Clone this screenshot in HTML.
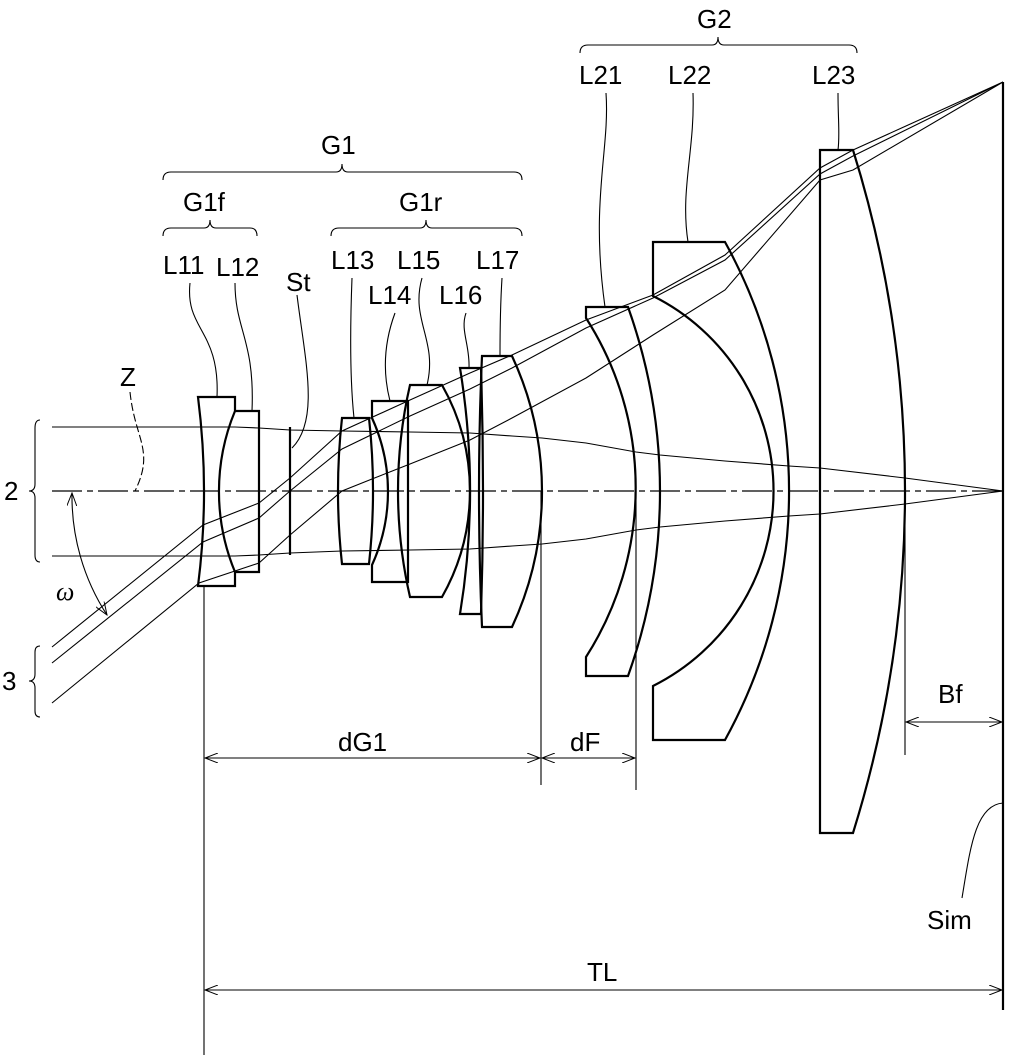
<!DOCTYPE html>
<html><head><meta charset="utf-8"><style>
html,body{margin:0;padding:0;background:#fff}
svg{display:block}
text{font-family:"Liberation Sans",sans-serif;font-size:26px;fill:#000}
</style></head><body>
<svg width="1011" height="1060" viewBox="0 0 1011 1060" xmlns="http://www.w3.org/2000/svg">
<defs>
<marker id="a" markerWidth="14" markerHeight="10" refX="13" refY="5" orient="auto-start-reverse" markerUnits="userSpaceOnUse">
<path d="M0,0 L13,5 L0,10" fill="none" stroke="#000" stroke-width="1"/>
</marker>
</defs>
<g fill="none" stroke="#000">
<line x1="52" y1="491" x2="1003" y2="491" stroke-width="1.2" stroke-dasharray="30,5,6,5"/>
<line x1="1003" y1="82" x2="1003" y2="1010" stroke-width="2.2"/>
<g stroke-width="1.1">
<path d="M52,427 L235,427 L259,428 L290,430 L342,431 L410,432 L470,433 L512,436 L542,438 L586,443 L636,452 L660,455 L725,461 L789,466 L820,468 L905,478 L1003,491"/>
<path d="M52,556 L235,556 L259,555 L290,553 L342,551 L410,550 L470,549 L512,546 L542,544 L586,539 L636,530 L660,527 L725,521 L789,516 L820,514 L905,504 L1003,491"/>
<path d="M52,647 L203,525 L259,503 L290,478 L342,431 L410,400 L470,373 L512,355 L586,320 L653,295 L725,255 L820,168 L853,150 L1003,82"/>
<path d="M52,663 L203,542 L259,518 L290,491 L342,449 L410,416 L470,389 L512,368 L586,328 L653,298 L725,260 L820,174 L853,156 L1003,82"/>
<path d="M52,703 L199,583 L259,563 L290,535 L342,491 L372,479 L410,464 L470,440 L512,418 L586,378 L653,335 L725,290 L820,180 L853,170 L1003,82"/>
</g>
<g stroke-width="2.2">
<path d="M198,397 L235,397 L235,411 A210,210 0 0 0 235,572 L235,586 L198,586 A747,747 0 0 0 198,397 Z"/>
<path d="M235,411 L259,411 L259,572 L235,572"/>
<line x1="290" y1="427" x2="290" y2="555"/>
<path d="M342,418 L369,418 A668,668 0 0 1 369,564 L342,564 A668,668 0 0 1 342,418 Z"/>
<path d="M372,401 L408,401 L408,582 L372,582 L372,565 A177,177 0 0 0 372,418 Z"/>
<path d="M410,385 L442,385 A215,215 0 0 1 442,597 L410,597 A474,474 0 0 1 410,385 Z"/>
<path d="M460,368 L481,368 A3783,3783 0 0 1 481,614 L460,614 A761,761 0 0 0 460,368 Z"/>
<path d="M482,356 L512,356 A321,321 0 0 1 512,627 L482,627 A3061,3061 0 0 1 482,356 Z"/>
<path d="M586,307 L628,307 A548,548 0 0 1 628,676 L586,676 L586,657 A314,314 0 0 0 586,318 Z"/>
<path d="M653,242 L725,242 A516,516 0 0 1 725,740 L653,740 L653,686 A218,218 0 0 0 653,296 Z"/>
<path d="M820,150 L853,150 A1147,1147 0 0 1 853,833 L820,833 Z"/>
</g>
<g stroke-width="1.1">
<line x1="204" y1="587" x2="204" y2="1055"/>
<line x1="541" y1="491" x2="541" y2="785"/>
<line x1="636" y1="491" x2="636" y2="790"/>
<line x1="905" y1="491" x2="905" y2="755"/>
<line x1="205" y1="758" x2="540" y2="758" marker-start="url(#a)" marker-end="url(#a)"/>
<line x1="542" y1="758" x2="635" y2="758" marker-start="url(#a)" marker-end="url(#a)"/>
<line x1="906" y1="722" x2="1002" y2="722" marker-start="url(#a)" marker-end="url(#a)"/>
<line x1="205" y1="990" x2="1002" y2="990" marker-start="url(#a)" marker-end="url(#a)"/>
<path d="M72,493 A218,218 0 0 0 107,615" marker-start="url(#a)" marker-end="url(#a)"/>
<path d="M190,283 C185,330 220,330 217,397"/>
<path d="M235,283 C235,330 255,340 252,411"/>
<path d="M297,295 C305,360 320,420 292,448"/>
<path d="M352,278 C350,330 350,380 354,418"/>
<path d="M395,313 C385,340 382,370 390,401"/>
<path d="M422,278 C410,320 438,340 427,385"/>
<path d="M466,313 C460,330 470,345 469,368"/>
<path d="M502,278 C500,310 500,340 500,356"/>
<path d="M606,93 C610,150 590,200 605,307"/>
<path d="M693,93 C695,150 680,190 688,242"/>
<path d="M838,93 C838,120 840,135 838,150"/>
<path d="M130,392 C135,440 155,450 135,491" stroke-dasharray="8,3"/>
<path d="M1003,803 C975,805 970,850 962,898"/>
<path d="M580,53 Q580,45 588,45 L712,45 Q718,45 718,37 Q718,45 724,45 L849,45 Q857,45 857,53"/>
<path d="M163,180 Q163,172 171,172 L336,172 Q342,172 342,164 Q342,172 348,172 L514,172 Q522,172 522,180"/>
<path d="M163,236 Q163,228 171,228 L204,228 Q210,228 210,220 Q210,228 216,228 L250,228 Q257,228 257,236"/>
<path d="M331,236 Q331,228 339,228 L420,228 Q426,228 426,220 Q426,228 432,228 L514,228 Q522,228 522,236"/>
<path d="M40,420 Q35,420 35,428 L35,484 Q35,491 29,491 Q35,491 35,498 L35,555 Q35,562 40,562"/>
<path d="M40,646 Q35,646 35,652 L35,674 Q35,681 29,681 Q35,681 35,688 L35,711 Q35,717 40,717"/>
</g>
</g>
<g>
<text x="697" y="28">G2</text>
<text x="579" y="84">L21</text>
<text x="668" y="84">L22</text>
<text x="812" y="84">L23</text>
<text x="321" y="154">G1</text>
<text x="183" y="211">G1f</text>
<text x="399" y="211">G1r</text>
<text x="163" y="274">L11</text>
<text x="216" y="276">L12</text>
<text x="286" y="291">St</text>
<text x="331" y="269">L13</text>
<text x="397" y="269">L15</text>
<text x="476" y="269">L17</text>
<text x="368" y="304">L14</text>
<text x="439" y="304">L16</text>
<text x="120" y="386">Z</text>
<text x="56" y="600" font-style="italic" style="font-family:'Liberation Serif',serif">ω</text>
<text x="4" y="500">2</text>
<text x="2" y="690">3</text>
<text x="338" y="751">dG1</text>
<text x="570" y="751">dF</text>
<text x="938" y="703">Bf</text>
<text x="587" y="981">TL</text>
<text x="927" y="929">Sim</text>
</g>
</svg>
</body></html>
